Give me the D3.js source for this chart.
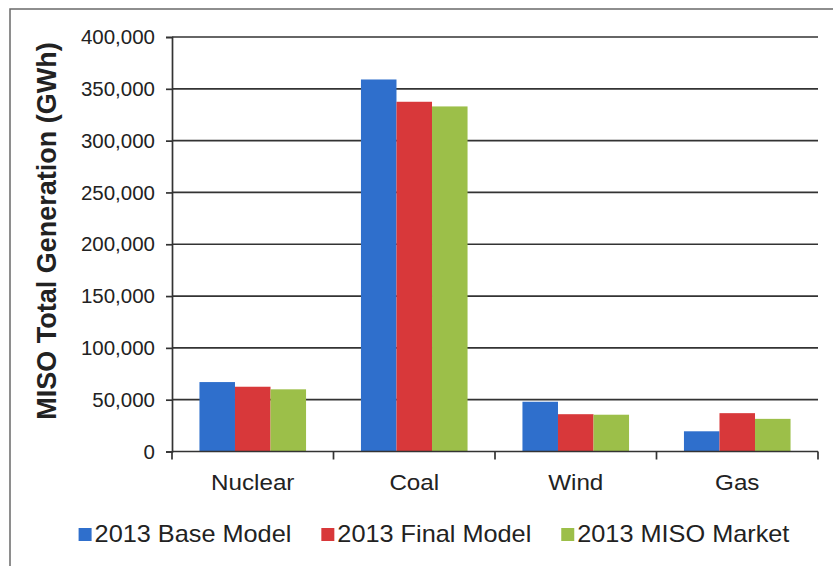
<!DOCTYPE html>
<html>
<head>
<meta charset="utf-8">
<script src="https://cdn.jsdelivr.net/npm/d3@7/dist/d3.min.js"></script>
<style>
  html, body { margin: 0; padding: 0; background: #fff; }
  svg { display: block; font-family: Arial, "Liberation Sans", sans-serif; }
</style>
</head>
<body>
<svg id="chart" width="833" height="566"></svg>
<script>
const categories = ["Nuclear", "Coal", "Wind", "Gas"];
const seriesNames = ["2013 Base Model", "2013 Final Model", "2013 MISO Market"];
const baseModel   = [67000, 359000, 48000, 19500];
const finalModel  = [62500, 337500, 36000, 37000];
const misoMarket  = [60000, 333000, 35500, 31500];
const yTicks = [0, 50000, 100000, 150000, 200000, 250000, 300000, 350000, 400000];
const colors = ["#2f6fcc", "#d8383a", "#9cbf49"];

const seriesValues = [baseModel, finalModel, misoMarket];
const data = categories.map((c, i) => ({
  category: c,
  values: seriesNames.map((s, j) => ({ series: s, value: seriesValues[j][i] }))
}));

const svg = d3.select("#chart");
const plot = { left: 172, right: 818, top: 37, bottom: 451.5 };

// chart border (top & left visible)
svg.append("path")
  .attr("d", `M10,566 L10,9 L833,9`)
  .attr("fill", "none").attr("stroke", "#6a6a6a").attr("stroke-width", 1.5);

const y = d3.scaleLinear().domain([0, 400000]).range([plot.bottom, plot.top]);
const x0 = d3.scaleBand().domain(categories).range([plot.left, plot.right]).padding(0);
const bw = x0.bandwidth();
const x1 = d3.scaleBand().domain(seriesNames).range([bw * 0.17, bw * 0.83]).padding(0);

// gridlines
svg.append("g").selectAll("line").data(yTicks.filter(d => d > 0)).join("line")
  .attr("x1", plot.left).attr("x2", plot.right)
  .attr("y1", d => y(d)).attr("y2", d => y(d))
  .attr("stroke", "#333").attr("stroke-width", 1.7);

// bars
const groups = svg.append("g").selectAll("g").data(data).join("g")
  .attr("transform", d => `translate(${x0(d.category)},0)`);
groups.selectAll("rect").data(d => d.values).join("rect")
  .attr("x", d => x1(d.series))
  .attr("width", x1.bandwidth())
  .attr("y", d => y(d.value))
  .attr("height", d => y(0) - y(d.value))
  .attr("fill", (d, i) => colors[i]);

// y axis
const yAxis = svg.append("g").attr("transform", `translate(${plot.left},0)`)
  .call(d3.axisLeft(y).tickValues(yTicks).tickSize(6).tickPadding(11)
    .tickFormat(d3.format(",")));
yAxis.select(".domain").attr("stroke", "#333").attr("stroke-width", 1.7);
yAxis.selectAll(".tick line").attr("stroke", "#333").attr("stroke-width", 1.7);
yAxis.selectAll(".tick text").attr("font-size", 20.5).attr("fill", "#222")
  .attr("font-family", "Arial, 'Liberation Sans', sans-serif");

// x axis line and boundary ticks
svg.append("line").attr("x1", plot.left).attr("x2", plot.right)
  .attr("y1", y(0)).attr("y2", y(0)).attr("stroke", "#333").attr("stroke-width", 1.7);
const bounds = categories.map(c => x0(c)).concat([plot.right]);
svg.append("g").selectAll("line").data(bounds).join("line")
  .attr("x1", d => d).attr("x2", d => d)
  .attr("y1", y(0)).attr("y2", y(0) + 8)
  .attr("stroke", "#333").attr("stroke-width", 1.7);

// category labels
svg.append("g").selectAll("text").data(categories).join("text")
  .attr("transform", d => `translate(${x0(d) + bw / 2},490) scale(1.1,1)`)
  .attr("text-anchor", "middle").attr("font-size", 22).attr("fill", "#222")
  .text(d => d);

// y title
svg.append("text")
  .attr("transform", "translate(56,231) rotate(-90)")
  .attr("text-anchor", "middle").attr("font-size", 27).attr("font-weight", "bold")
  .attr("fill", "#222")
  .text("MISO Total Generation (GWh)");

// legend
const legend = svg.append("g");
const items = legend.selectAll("g").data(seriesNames).join("g");
items.append("rect").attr("width", 13).attr("height", 13).attr("y", -14)
  .attr("fill", (d, i) => colors[i]);
items.append("text").attr("font-size", 23).attr("fill", "#222")
  .attr("transform", "scale(1.1,1)")
  .attr("x", 16 / 1.1)
  .text(d => d);
const gap = 30;
let cx = 0;
const offsets = [];
items.each(function(d) {
  const w = 16 + this.querySelector("text").getComputedTextLength() * 1.1;
  offsets.push(cx);
  cx += w + gap;
});
const total = cx - gap;
const startX = 434 - total / 2;
items.attr("transform", (d, i) => `translate(${startX + offsets[i]},542)`);
</script>
</body>
</html>
